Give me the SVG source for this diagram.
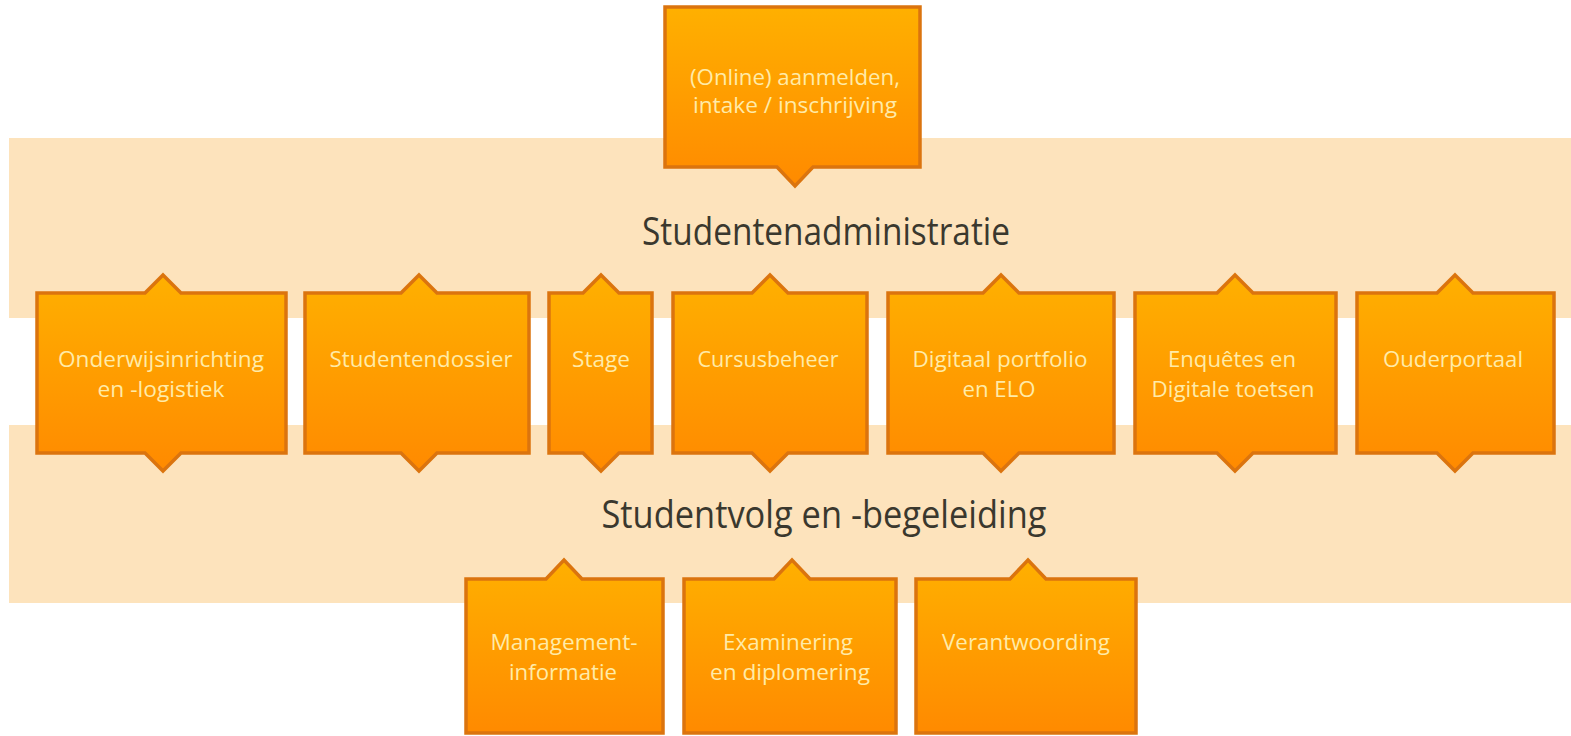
<svg xmlns="http://www.w3.org/2000/svg" width="1571" height="736" viewBox="0 0 1571 736">
<defs>
<linearGradient id="g" x1="0" y1="0" x2="0" y2="1">
<stop offset="0" stop-color="#FFB000"/>
<stop offset="1" stop-color="#FF8A00"/>
</linearGradient>
<style>
.band{fill:#FDE3BC}
.box{fill:url(#g);stroke:#DB740E;stroke-width:3.5;stroke-linejoin:miter}
.lbl{font-family:"Open Sans","Noto Sans","Liberation Sans",sans-serif;font-size:21px;fill:#FFEBA8;text-anchor:middle}
.hdr{font-family:"Open Sans","Noto Sans","Liberation Sans",sans-serif;font-size:39px;fill:#3A382E;text-anchor:middle}
</style>
</defs>
<rect width="1571" height="736" fill="#FFFFFF"/>
<g id="bands">
<rect class="band" x="9" y="138" width="1562" height="180"/>
<rect class="band" x="9" y="425" width="1562" height="178"/>
</g>
<g id="headers">
<text class="hdr" x="826" y="245" textLength="368" lengthAdjust="spacingAndGlyphs">Studentenadministratie</text>
<text class="hdr" x="824" y="528" textLength="445" lengthAdjust="spacingAndGlyphs">Studentvolg en -begeleiding</text>
</g>
<g id="connectors"></g>
<g id="n-aanmelden">
<path class="box" d="M665 7 H920 V167 H813 L795 186 L777 167 H665 Z"/>
<text class="lbl" x="795" y="85" textLength="210" lengthAdjust="spacingAndGlyphs">(Online) aanmelden,</text>
<text class="lbl" x="795" y="113" textLength="204" lengthAdjust="spacingAndGlyphs">intake / inschrijving</text>
</g>
<g id="n-onderwijs">
<path class="box" d="M37 293 H145 L163 275 L181 293 H286 V453 H181 L163 471 L145 453 H37 Z"/>
<text class="lbl" x="161" y="367" textLength="206" lengthAdjust="spacingAndGlyphs">Onderwijsinrichting</text>
<text class="lbl" x="161" y="397" textLength="127" lengthAdjust="spacingAndGlyphs">en -logistiek</text>
</g>
<g id="n-dossier">
<path class="box" d="M305 293 H401 L419 275 L437 293 H529 V453 H437 L419 471 L401 453 H305 Z"/>
<text class="lbl" x="421" y="367" textLength="183" lengthAdjust="spacingAndGlyphs">Studentendossier</text>
</g>
<g id="n-stage">
<path class="box" d="M549 293 H583 L601 275 L619 293 H652 V453 H619 L601 471 L583 453 H549 Z"/>
<text class="lbl" x="601" y="367" textLength="58" lengthAdjust="spacingAndGlyphs">Stage</text>
</g>
<g id="n-cursus">
<path class="box" d="M673 293 H752 L770 275 L788 293 H867 V453 H788 L770 471 L752 453 H673 Z"/>
<text class="lbl" x="768" y="367" textLength="141" lengthAdjust="spacingAndGlyphs">Cursusbeheer</text>
</g>
<g id="n-portfolio">
<path class="box" d="M888 293 H983 L1001 275 L1019 293 H1114 V453 H1019 L1001 471 L983 453 H888 Z"/>
<text class="lbl" x="1000" y="367" textLength="175" lengthAdjust="spacingAndGlyphs">Digitaal portfolio</text>
<text class="lbl" x="999" y="397" textLength="73" lengthAdjust="spacingAndGlyphs">en ELO</text>
</g>
<g id="n-enquetes">
<path class="box" d="M1135 293 H1217 L1235 275 L1253 293 H1336 V453 H1253 L1235 471 L1217 453 H1135 Z"/>
<text class="lbl" x="1232" y="367" textLength="128" lengthAdjust="spacingAndGlyphs">Enquêtes en</text>
<text class="lbl" x="1233" y="397" textLength="163" lengthAdjust="spacingAndGlyphs">Digitale toetsen</text>
</g>
<g id="n-ouder">
<path class="box" d="M1357 293 H1437 L1455 275 L1473 293 H1554 V453 H1473 L1455 471 L1437 453 H1357 Z"/>
<text class="lbl" x="1453" y="367" textLength="140" lengthAdjust="spacingAndGlyphs">Ouderportaal</text>
</g>
<g id="n-management">
<path class="box" d="M466 579 H546 L564 560 L582 579 H663 V733 H466 Z"/>
<text class="lbl" x="564" y="650" textLength="147" lengthAdjust="spacingAndGlyphs">Management-</text>
<text class="lbl" x="563" y="680" textLength="108" lengthAdjust="spacingAndGlyphs">informatie</text>
</g>
<g id="n-examinering">
<path class="box" d="M684 579 H774 L792 560 L810 579 H896 V733 H684 Z"/>
<text class="lbl" x="788" y="650" textLength="130" lengthAdjust="spacingAndGlyphs">Examinering</text>
<text class="lbl" x="790" y="680" textLength="160" lengthAdjust="spacingAndGlyphs">en diplomering</text>
</g>
<g id="n-verantwoording">
<path class="box" d="M916 579 H1010 L1028 560 L1046 579 H1136 V733 H916 Z"/>
<text class="lbl" x="1026" y="650" textLength="168" lengthAdjust="spacingAndGlyphs">Verantwoording</text>
</g>
</svg>
